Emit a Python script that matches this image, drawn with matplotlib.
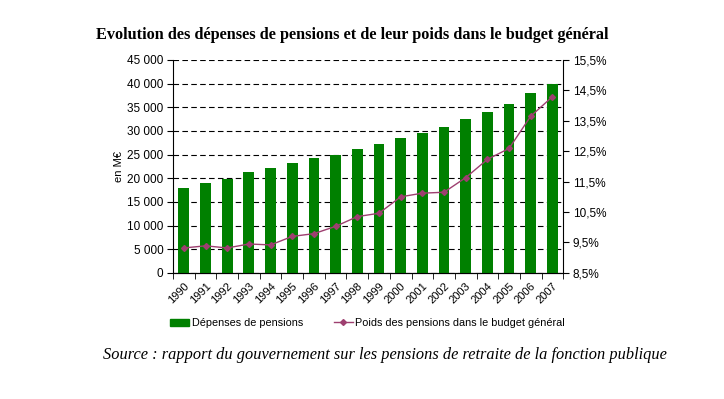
import matplotlib.pyplot as plt
import numpy as np
from matplotlib.ticker import FuncFormatter, MultipleLocator, FixedLocator
from matplotlib.lines import Line2D
from matplotlib.patches import Patch

# data
years = [str(y) for y in range(1990, 2008)]
depenses = [18000, 19000, 19900, 21300, 22100, 23200, 24300, 24900, 26200,
            27300, 28500, 29600, 30800, 32500, 34000, 35700, 38000, 39800]
poids = [9.32, 9.39, 9.32, 9.45, 9.42, 9.70, 9.79, 10.03, 10.35,
         10.46, 11.00, 11.12, 11.15, 11.63, 12.23, 12.59, 13.65, 14.29]

plt.rcParams['font.family'] = ['Liberation Sans', 'DejaVu Sans']

fig = plt.figure(figsize=(7.24, 3.99), dpi=100)
ax = fig.add_axes([0.239, 0.316, 0.539, 0.534])
x = np.arange(len(years))

ax.bar(x, depenses, width=0.5, color='#008000', zorder=3)
ax.set_xlim(-0.5, len(years) - 0.5)
ax.set_ylim(0, 45000)
ax.yaxis.set_major_locator(MultipleLocator(5000))
ax.yaxis.set_major_formatter(FuncFormatter(lambda v, p: f"{int(v):,}".replace(",", " ")))
ax.grid(axis='y', color='black', linestyle=(0, (5, 3)), linewidth=0.8, zorder=1)
ax.set_xticks(x)
ax.set_xticklabels(years, rotation=45, ha='right', rotation_mode='anchor', fontsize=8)
ax.set_xticks(np.arange(-0.5, len(years)), minor=True)
ax.tick_params(axis='x', which='major', length=0, pad=6)
ax.tick_params(axis='x', which='minor', length=4, direction='out')
ax.tick_params(axis='y', labelsize=8.5, length=4, direction='out', pad=3)
ax.set_ylabel('en M€', fontsize=8, labelpad=2)
ax.spines['top'].set_visible(False)
ax.spines['right'].set_visible(False)

ax2 = ax.twinx()
ax2.plot(x, poids, color='#9e3f70', marker='D', markersize=3, linewidth=1.0, zorder=4)
ax2.set_ylim(8.5, 15.5)
ax2.yaxis.set_major_locator(FixedLocator(np.arange(8.5, 15.6, 1)))
ax2.yaxis.set_major_formatter(FuncFormatter(lambda v, p: f"{v:.1f}%".replace(".", ",")))
ax2.tick_params(axis='y', labelsize=8.5, length=4, direction='out', pad=3)
ax2.spines['top'].set_visible(False)
ax2.spines['left'].set_visible(False)

handles = [Patch(color='#008000'),
           Line2D([0], [0], color='#9e3f70', marker='D', markersize=3, linewidth=1)]
fig.legend(handles, ['Dépenses de pensions', 'Poids des pensions dans le budget général'],
           loc='center', bbox_to_anchor=(0.508, 0.19), ncol=2, frameon=False,
           fontsize=7.8, handlelength=1.7, handletextpad=0.25, columnspacing=2.9)

fig.text(0.486, 0.912, 'Evolution des dépenses de pensions et de leur poids dans le budget général',
         ha='center', va='center', fontsize=11.7, fontweight='bold', family='Liberation Serif')
fig.text(0.532, 0.11, 'Source : rapport du gouvernement sur les pensions de retraite de la fonction publique',
         ha='center', va='center', fontsize=11.8, style='italic', family='Liberation Serif')

fig.savefig('out.png', dpi=100)
